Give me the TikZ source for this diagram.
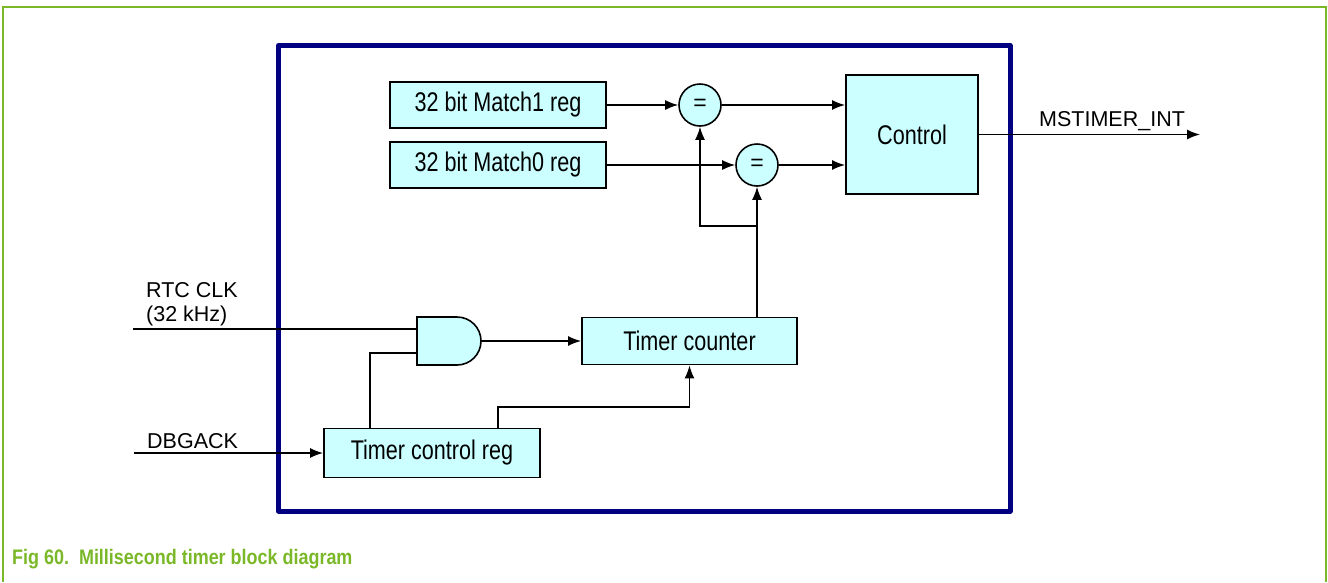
\documentclass[tikz,border=0pt]{standalone}
\usepackage{fontspec}
\setmainfont{Liberation Sans}
\newfontfamily\boxfont{Liberation Sans}[FakeStretch=0.8]
\newfontfamily\capfont{Liberation Sans}[FakeStretch=0.855]
\usetikzlibrary{arrows.meta,calc}
\definecolor{nxpgreen}{RGB}{122,184,40}
\definecolor{navyblue}{RGB}{0,0,128}
\definecolor{boxfill}{RGB}{204,255,255}
\tikzset{
  regbox/.style={draw=black,line width=1.8pt,fill=boxfill,rectangle,inner sep=0pt,
    font=\boxfont\fontsize{27}{31}\selectfont},
  cmpnode/.style={draw=black,line width=1.6pt,fill=boxfill,circle,inner sep=0pt,minimum size=42pt,
    font=\fontsize{23}{26}\selectfont},
  wire/.style={draw=black,line width=1.5pt},
  arr/.style={wire,-{Latex[length=13pt,width=10pt]}},
  lbl/.style={font=\fontsize{21.5}{25}\selectfont,inner sep=0pt,anchor=base west},
}
\begin{document}
\begin{tikzpicture}[x=1pt,y=-1pt]
\useasboundingbox (0,0) rectangle (1328,582);
% outer frame
\draw[nxpgreen,line width=1.5pt] (3,582) -- (3,7) -- (1326,7) -- (1326,582);
% block frame
\draw[navyblue,line width=5pt,line join=round] (278.5,45.5) rectangle (1010,511);
% registers
\node[regbox,minimum width=216pt,minimum height=46pt] (m1) at (498,105) {32 bit Match1 reg};
\node[regbox,minimum width=216pt,minimum height=46pt] (m0) at (498,165) {32 bit Match0 reg};
\node[regbox,minimum width=132pt,minimum height=119pt] (ctrl) at (912,134.5) {Control};
\node[cmpnode] (eq1) at (700,105) {=};
\node[cmpnode] (eq2) at (757,165) {=};
\node[regbox,minimum width=215pt,minimum height=47pt] (tc) at (689.5,341) {Timer counter};
\node[regbox,minimum width=216pt,minimum height=49pt] (tcr) at (432,453) {Timer control reg};
% AND gate
\draw[black,line width=1.6pt,fill=boxfill] (417,317) -- (457,317)
  arc[start angle=-90,end angle=90,radius=24] -- (417,365) -- cycle;
\coordinate (andin1) at (417,329);
\coordinate (andin2) at (417,353);
\coordinate (andout) at (481,341);
% external ends
\coordinate (rtc) at (133,329);
\coordinate (dbg) at (134,453);
\coordinate (out) at (1200,134.5);
\coordinate (tap1) at (370,428.5);
\coordinate (tap2) at (498,428.5);
\coordinate (br) at (757,226);
% connectors
\draw[arr] (m1.east) -- (eq1.west);
\draw[arr] (m0.east) -- (eq2.west);
\draw[arr] (eq1.east) -- (eq1.east -| ctrl.west);
\draw[arr] (eq2.east) -- (eq2.east -| ctrl.west);
\draw[arr] (eq2.south |- tc.north) -- (eq2.south);
\draw[arr] (br) -| (eq1.south);
\draw[arr] (ctrl.east |- out) -- (out);
\draw[wire] (rtc) -- (andin1);
\draw[wire] (tap1) |- (andin2);
\draw[arr] (andout) -- (andout -| tc.west);
\draw[arr] (tap2) -- ++(0,-21.5) -| (tc.south);
\draw[arr] (dbg) -- (dbg -| tcr.west);
% labels
\node[lbl] (lint) at (1039,126) {MSTIMER\_INT};
\node[lbl] (lrtc) at (146,297) {RTC CLK};
\node[lbl] (lkhz) at (146,321) {(32 kHz)};
\node[lbl] (ldbg) at (147,448) {DBGACK};
\node[inner sep=0pt,anchor=base west,text=nxpgreen,font=\capfont\bfseries\fontsize{21}{25}\selectfont] (cap) at (12,564) {Fig 60.\ \ Millisecond timer block diagram};
\end{tikzpicture}
\end{document}
